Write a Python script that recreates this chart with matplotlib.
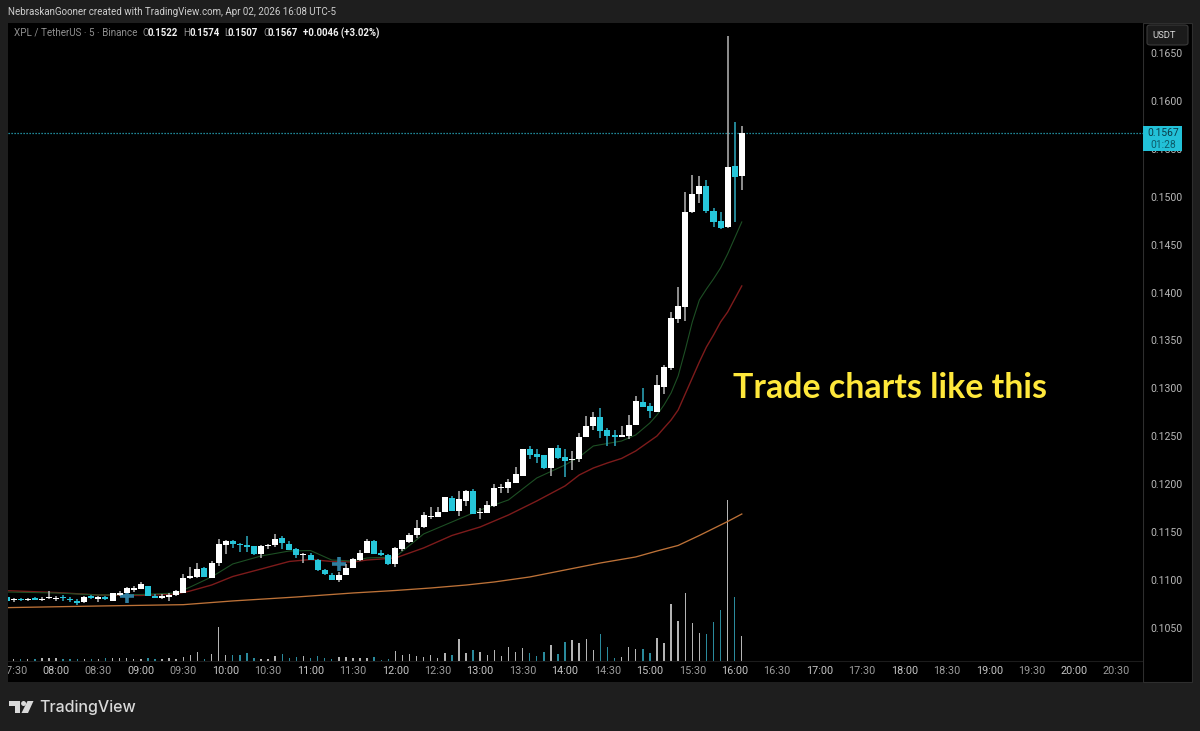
"""XPL / USDT 5 minute chart, TradingView dark layout."""
import matplotlib
matplotlib.use('Agg')
import matplotlib.pyplot as plt
from matplotlib.patches import Rectangle, FancyBboxPatch, Polygon, Ellipse

plt.rcParams['font.family'] = ['Roboto', 'DejaVu Sans']

# candle 0 is 07:30, one candle per 5 minutes, first one (-1) is cut by the frame
opens = [
    .10820, .10789, .10802, .10792, .10816, .10795, .10810, .10806, .10826, .10806,
    .10785, .10768, .10831, .10799, .10820, .10785, .10841, .10865, .10899, .10907,
    .10938, .10831, .10816, .10826, .10841, .10868, .11019, .11029, .11123, .11025,
    .11181, .11366, .11405, .11379, .11361, .11356, .11272, .11353, .11366, .11439,
    .11379, .11321, .11259, .11262, .11212, .11105, .11056, .11004, .11053, .11126,
    .11209, .11283, .11408, .11283, .11265, .11164, .11324, .11398, .11467, .11551,
    .11655, .11662, .11711, .11857, .11724, .11825, .11926, .11697, .11700, .11770,
    .11958, .11964, .12016, .12089, .12364, .12315, .12305, .12166, .12378, .12281,
    .12253, .12260, .12493, .12608, .12699, .12563, .12514, .12493, .12507, .12618,
    .12861, .12820, .12757, .13015, .13213, .13724, .13850, .14841, .15029, .15112,
    .14851, .14747, .14684, .15321, .15220,
]
highs = [
    .10844, .10813, .10813, .10816, .10823, .10826, .10886, .10831, .10841, .10820,
    .10799, .10834, .10847, .10834, .10837, .10865, .10883, .10928, .10941, .10980,
    .10938, .10855, .10851, .10868, .10896, .11063, .11133, .11181, .11133, .11202,
    .11431, .11418, .11418, .11390, .11459, .11356, .11366, .11379, .11481, .11460,
    .11405, .11332, .11279, .11279, .11217, .11112, .11077, .11081, .11168, .11230,
    .11314, .11426, .11418, .11314, .11269, .11342, .11421, .11488, .11624, .11707,
    .11762, .11759, .11870, .11877, .11933, .11940, .11950, .11755, .11822, .12003,
    .12000, .12051, .12180, .12368, .12399, .12371, .12305, .12381, .12406, .12364,
    .12347, .12538, .12712, .12754, .12796, .12584, .12566, .12608, .12722, .12921,
    .13001, .12845, .13140, .13244, .13797, .14058, .15050, .15227, .15216, .15175,
    .14882, .14841, .16677, .15780, .15740,
]
lows = [
    .10771, .10774, .10778, .10782, .10789, .10782, .10799, .10785, .10782, .10768,
    .10740, .10764, .10799, .10774, .10789, .10782, .10831, .10862, .10879, .10904,
    .10834, .10810, .10802, .10782, .10834, .10865, .11008, .11019, .11029, .11022,
    .11147, .11272, .11335, .11296, .11296, .11265, .11233, .11327, .11348, .11324,
    .11314, .11233, .11175, .11206, .11098, .11053, .10998, .10983, .11050, .11123,
    .11195, .11280, .11269, .11255, .11160, .11133, .11306, .11384, .11443, .11543,
    .11637, .11658, .11707, .11721, .11672, .11776, .11686, .11640, .11697, .11766,
    .11906, .11906, .12010, .12086, .12260, .12225, .12156, .12086, .12267, .12079,
    .12149, .12235, .12490, .12566, .12482, .12402, .12402, .12490, .12469, .12615,
    .12806, .12691, .12754, .12942, .13192, .13682, .13703, .14830, .14935, .14830,
    .14684, .14663, .14674, .14736, .15070,
]
closes = [
    .10785, .10802, .10789, .10802, .10795, .10806, .10826, .10816, .10810, .10789,
    .10764, .10820, .10810, .10820, .10799, .10865, .10868, .10917, .10917, .10956,
    .10834, .10816, .10837, .10847, .10883, .11025, .11043, .11113, .11032, .11181,
    .11372, .11411, .11377, .11366, .11348, .11269, .11356, .11369, .11429, .11384,
    .11317, .11262, .11272, .11209, .11102, .11060, .11001, .11056, .11129, .11223,
    .11285, .11408, .11272, .11262, .11164, .11331, .11415, .11474, .11540, .11676,
    .11665, .11714, .11864, .11724, .11846, .11933, .11690, .11714, .11783, .11958,
    .11968, .12023, .12104, .12364, .12308, .12281, .12172, .12375, .12274, .12246,
    .12263, .12496, .12611, .12699, .12559, .12503, .12490, .12514, .12615, .12872,
    .12809, .12767, .13039, .13223, .13735, .13860, .14841, .15029, .15112, .14851,
    .14736, .14674, .15310, .15206, .15670,
]
volumes = [
    5, 6, 5, 6, 7, 8, 9, 8, 6, 6,
    6, 6, 6, 7, 9, 9, 10, 9, 7, 7,
    9, 5, 7, 8, 7, 13, 18, 27, 6, 22,
    101, 18, 19, 17, 24, 8, 6, 6, 15, 20,
    10, 12, 14, 10, 14, 8, 7, 12, 12, 8,
    10, 10, 12, 4, 6, 30, 19, 20, 16, 12,
    17, 8, 25, 17, 66, 24, 33, 27, 17, 32,
    16, 42, 27, 38, 25, 15, 27, 47, 22, 57,
    63, 54, 65, 32, 80, 42, 10, 13, 42, 35,
    37, 23, 70, 54, 172, 120, 204, 114, 83, 80,
    118, 152, 483, 192, 75,
]

ema_idx = [-1, 6, 12, 18, 23, 25, 28, 31, 35, 39, 42, 45, 48, 50, 54, 58, 62, 66, 70, 74,
           78, 80, 82, 84, 86, 88, 90, 91, 92, 93, 94, 95, 96, 97, 98, 99, 100, 101, 102, 103]
ema_fast = [.10875, .10865, .10844, .10849, .10865, .10928, .11032, .11168,
            .11251, .11303, .11308, .11209, .11199, .11230, .11241, .11481,
            .11606, .11731, .11836, .12065,
            .12201, .12284, .12399, .12425, .12451, .12514, .12639, .12722, .12827, .12952,
            .13129, .13401, .13693, .13923, .14037, .14142, .14257, .14403, .14570, .14737]
ema_mid = [.10889, .10870, .10844, .10839, .10855, .10886, .10948, .11037,
           .11115, .11194, .11214, .11194, .11188, .11209, .11230, .11335,
           .11465, .11554, .11679, .11825,
           .11982, .12096, .12169, .12222, .12269, .12347, .12451, .12503, .12587, .12670,
           .12775, .12942, .13109, .13276, .13432, .13557, .13693, .13797, .13933, .14069]
slow_idx = [-1, 12, 24, 31, 40, 48, 54, 59, 64, 68, 73, 78, 83, 88, 91, 94, 97, 101, 103]
ema_slow = [.10712, .10729, .10743, .10782, .10823, .10865, .10891, .10917, .10948,
            .10980, .11032, .11105, .11178, .11241, .11303, .11361, .11465, .11611, .11689]

cross_idx = [16, 46]
cross_val = [.10834, .11168]

price_ticks = [.105, .11, .115, .12, .125, .13, .135, .14, .145, .15, .155, .16, .165]
time_labels = ['07:30', '08:00', '08:30', '09:00', '09:30', '10:00', '10:30', '11:00', '11:30',
               '12:00', '12:30', '13:00', '13:30', '14:00', '14:30', '15:00', '15:30', '16:00',
               '16:30', '17:00', '17:30', '18:00', '18:30', '19:00', '19:30', '20:00', '20:30']

last_price = .1567

W, H = 1200, 731
FRAME = '#1e1e1e'
UP = '#ffffff'
DOWN = '#26c6da'


def fx(x):
    return x / W


def fy(y):
    return 1 - y / H


def add_rect(x0, y0, x1, y1, **kw):
    fig.add_artist(Rectangle((fx(x0), fy(y1)), (x1 - x0) / W, (y1 - y0) / H,
                             transform=fig.transFigure, **kw))


fig = plt.figure(figsize=(W / 100, H / 100), dpi=100, facecolor=FRAME)

# price axis panel, sits under the axes
add_rect(1143, 23, 1192, 682, facecolor='black', edgecolor='#2e2e2e', lw=0.8, zorder=0)

L, R, T, B = 8, 1143, 23, 682
rect = [fx(L), fy(B), (R - L) / W, (B - T) / H]
ax_vol = fig.add_axes(rect, facecolor='black', zorder=1)
ax = fig.add_axes(rect, facecolor='none', zorder=2)

x = list(range(-1, 104))
ax.set_xlim(-0.79, 159.75)
ax.set_ylim(.09936, .16813)
ax_vol.set_xlim(-0.79, 159.75)
ax_vol.set_ylim(-63, 1914)  # zero sits on the faint line above the time axis

is_up = [c >= o for o, c in zip(opens, closes)]

# volume
vol_col = ['#b4b4b4' if u else '#2a8a9c' for u in is_up]
ax_vol.bar(x, volumes, width=0.2, color=vol_col, linewidth=0)
ax_vol.axhline(0, color='#1c1c1c', lw=0.8)
ax_vol.set_xticks([])
ax_vol.set_yticks([])
for s in ax_vol.spines.values():
    s.set_visible(False)

ax.axhline(last_price, color='#2ab3c8', lw=0.9, ls=(0, (1, 1.4)), zorder=1)

# moving averages
ax.plot(slow_idx, ema_slow, color='#bd7238', lw=0.95, zorder=2)
ax.plot(ema_idx, ema_mid, color='#7d1b1b', lw=1.0, zorder=2)
ax.plot(ema_idx, ema_fast, color='#1d4f24', lw=0.8, zorder=2)

ax.plot(cross_idx, cross_val, ls='none', marker='+', ms=10, mew=2.6, color='#2f7ea0', zorder=3)

# candles
wick_col = ['#a8a8a8' if u else '#2a9db0' for u in is_up]
ax.vlines(x, lows, highs, colors=wick_col, lw=1.2, zorder=4)
body_bot = [min(o, c) for o, c in zip(opens, closes)]
body_h = [abs(c - o) for o, c in zip(opens, closes)]
body_col = [UP if u else DOWN for u in is_up]
ax.bar(x, body_h, bottom=body_bot, width=0.85, color=body_col, linewidth=0, zorder=5)

# axes decoration
ax.yaxis.tick_right()
ax.set_yticks(price_ticks)
ax.set_yticklabels([f'{p:.4f}' for p in price_ticks])
ax.tick_params(axis='y', length=0, pad=5, labelsize=7.6, labelcolor='#b8b8b8')
ax.set_xticks([6 * k for k in range(len(time_labels))])
ax.set_xticklabels(time_labels)
ax.tick_params(axis='x', length=0, pad=-11.2, labelsize=7.8)
for lab, name in zip(ax.get_xticklabels(), time_labels):
    lab.set_color('#c4c4c4' if name.endswith(':00') else '#9c9c9c')
    lab.set_clip_box(ax.bbox)
    lab.set_clip_on(True)
for s in ax.spines.values():
    s.set_visible(False)

fig.text(fx(733), fy(388), 'Trade charts like this', color='#ffe83b', fontsize=24.4,
         family=['Lato', 'DejaVu Sans'], weight='bold', va='center', ha='left', zorder=6)

# header texts
fig.text(fx(8), fy(12), 'NebraskanGooner created with TradingView.com, Apr 02, 2026 16:08 UTC-5',
         color='#cfcfcf', fontsize=7.0, va='center')
fig.text(fx(14), fy(33), 'XPL / TetherUS · 5 · Binance', color='#8f8f8f', fontsize=7.1, va='center', zorder=6)
for px, s, col, wt in [(142.7, 'O', '#8f8f8f', 'normal'), (147.7, '0.1522', '#f0f0f0', 'bold'),
                       (183, 'H', '#8f8f8f', 'normal'), (189, '0.1574', '#f0f0f0', 'bold'),
                       (224, 'L', '#8f8f8f', 'normal'), (227.7, '0.1507', '#f0f0f0', 'bold'),
                       (263, 'C', '#8f8f8f', 'normal'), (268, '0.1567', '#f0f0f0', 'bold'),
                       (302.7, '+0.0046 (+3.02%)', '#f0f0f0', 'bold')]:
    fig.text(fx(px), fy(33), s, color=col, fontsize=6.9, weight=wt, va='center', zorder=6)

# currency button
fig.add_artist(FancyBboxPatch((fx(1147), fy(45)), 41 / W, 20 / H,
                              boxstyle='round,pad=0,rounding_size=0.003',
                              transform=fig.transFigure, facecolor='#1b1b1b',
                              edgecolor='#3a3a3a', lw=0.8, zorder=5))
fig.text(fx(1164), fy(35.5), 'USDT', color='#d8d8d8', fontsize=6.8, ha='center', va='center', zorder=6)

# last price tag
add_rect(1143, 126, 1182, 150.5, facecolor='#22c1d8', edgecolor='none', zorder=5)
fig.text(fx(1163), fy(132.5), '0.1567', color='#0a3a48', fontsize=7.4, ha='center', va='center', zorder=6)
fig.text(fx(1163), fy(144.5), '01:28', color='#0c5a68', fontsize=7.4, ha='center', va='center', zorder=6)

# logo
logo = '#d9d9d9'
fig.add_artist(Polygon([(fx(a), fy(b)) for a, b in
                        [(9, 701), (20, 701), (20, 713), (14.5, 713), (14.5, 706), (9, 706)]],
                       transform=fig.transFigure, facecolor=logo, edgecolor='none'))
fig.add_artist(Ellipse((fx(23.6), fy(703.5)), 5 / W, 5 / H, transform=fig.transFigure,
                       facecolor=logo, edgecolor='none'))
fig.add_artist(Polygon([(fx(a), fy(b)) for a, b in
                        [(27.5, 701), (33.5, 701), (28, 713), (21.5, 713)]],
                       transform=fig.transFigure, facecolor=logo, edgecolor='none'))
fig.text(fx(39), fy(707.5), 'TradingView', color=logo, fontsize=11.5, weight='medium',
         family=['Inter', 'DejaVu Sans'], va='center')

fig.savefig('out.png', dpi=100, facecolor=FRAME)
